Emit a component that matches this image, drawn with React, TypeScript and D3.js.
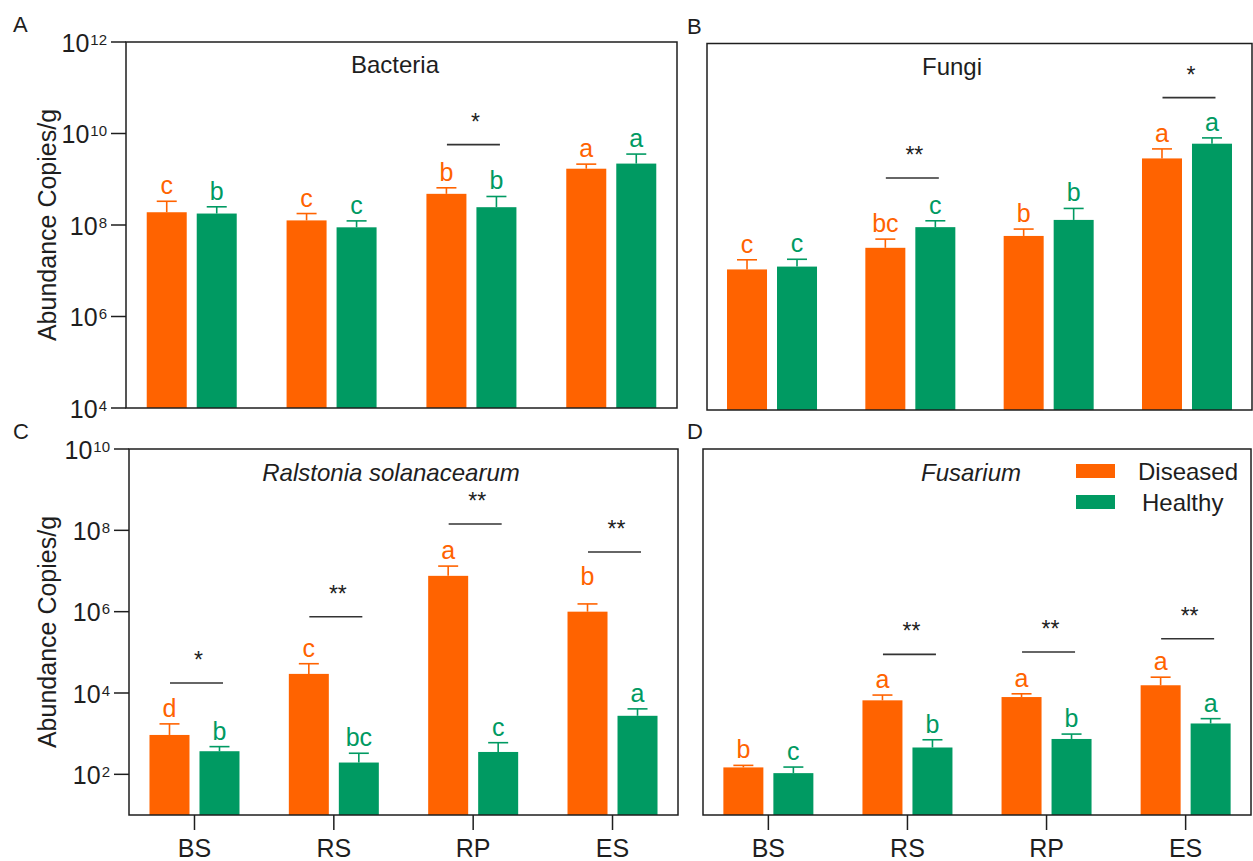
import React from "react";
import * as d3 from "d3";

// Sampling compartments and treatment groups
const sites = ["BS", "RS", "RP", "ES"];
const groupNames = ["Diseased", "Healthy"];
const groupColors = ["#FF6300", "#009A62"];

// Bacteria (copies/g): mean and standard error
const bacteriaDiseased = [1.9e8, 1.26e8, 4.8e8, 1.7e9];
const bacteriaDiseasedSE = [1.4e8, 5.2e7, 1.7e8, 4.4e8];
const bacteriaHealthy = [1.78e8, 8.9e7, 2.45e8, 2.2e9];
const bacteriaHealthySE = [7.2e7, 3.4e7, 1.75e8, 1.35e9];
const bacteriaDiseasedLetters = ["c", "c", "b", "a"];
const bacteriaHealthyLetters = ["b", "c", "b", "a"];
const bacteriaSig = [{ site: "RP", mark: "*", level: 5.7e9 }];

// Fungi (copies/g)
const fungiDiseased = [1.17e7, 3.47e7, 6.3e7, 3.1e9];
const fungiDiseasedSE = [7.3e6, 1.9e7, 2.6e7, 1.9e9];
const fungiHealthy = [1.35e7, 9.8e7, 1.41e8, 6.5e9];
const fungiHealthySE = [6.0e6, 3.7e7, 1.1e8, 2.2e9];
const fungiDiseasedLetters = ["c", "bc", "b", "a"];
const fungiHealthyLetters = ["c", "c", "b", "a"];
const fungiSig = [
  { site: "RS", mark: "**", level: 1.16e9 },
  { site: "ES", mark: "*", level: 6.6e10 },
];

// Ralstonia solanacearum (copies/g)
const ralstoniaDiseased = [930, 29500, 7.6e6, 1.0e6];
const ralstoniaDiseasedSE = [810, 23000, 5.6e6, 5.5e5];
const ralstoniaHealthy = [370, 195, 355, 2750];
const ralstoniaHealthySE = [110, 135, 245, 1320];
const ralstoniaDiseasedLetters = ["d", "c", "a", "b"];
const ralstoniaHealthyLetters = ["b", "bc", "c", "a"];
const ralstoniaDiseasedLetterLift = [0, 0, 0, 12];
const ralstoniaSig = [
  { site: "BS", mark: "*", level: 1.76e4 },
  { site: "RS", mark: "**", level: 7.5e5 },
  { site: "RP", mark: "**", level: 1.43e8 },
  { site: "ES", mark: "**", level: 2.93e7 },
];

// Fusarium (copies/g)
const fusariumDiseased = [148, 6600, 7950, 15500];
const fusariumDiseasedSE = [18, 2300, 1600, 9000];
const fusariumHealthy = [107, 457, 741, 1780];
const fusariumHealthySE = [44, 251, 236, 560];
const fusariumDiseasedLetters = ["b", "a", "a", "a"];
const fusariumHealthyLetters = ["c", "b", "b", "a"];
const fusariumSig = [
  { site: "RS", mark: "**", level: 8.9e4 },
  { site: "RP", mark: "**", level: 1.02e5 },
  { site: "ES", mark: "**", level: 2.16e5 },
];

// Axis tick exponents
const upperTickExponents = [4, 6, 8, 10, 12];
const lowerTickExponents = [2, 4, 6, 8, 10];

const FONT = "'Liberation Sans', Arial, Helvetica, sans-serif";
const INK = "#1e1e1e";

type Sig = { site: string; mark: string; level: number };
type PanelSpec = {
  tag: string;
  title: string;
  italic: boolean;
  titleX: number;
  box: [number, number, number, number]; // x0, y0, x1, y1
  domain: [number, number];
  yTicks: number[] | null;
  xTicks: boolean;
  means: number[][];
  ses: number[][];
  letters: string[][];
  lifts: number[][];
  sig: Sig[];
};

const zeros = [0, 0, 0, 0];

const panels: PanelSpec[] = [
  {
    tag: "A",
    title: "Bacteria",
    italic: false,
    titleX: 395,
    box: [126, 42, 677, 408],
    domain: [1e4, 1e12],
    yTicks: upperTickExponents,
    xTicks: false,
    means: [bacteriaDiseased, bacteriaHealthy],
    ses: [bacteriaDiseasedSE, bacteriaHealthySE],
    letters: [bacteriaDiseasedLetters, bacteriaHealthyLetters],
    lifts: [zeros, zeros],
    sig: bacteriaSig,
  },
  {
    tag: "B",
    title: "Fungi",
    italic: false,
    titleX: 952,
    box: [707, 43.5, 1252, 410],
    domain: [1e4, 1e12],
    yTicks: null,
    xTicks: false,
    means: [fungiDiseased, fungiHealthy],
    ses: [fungiDiseasedSE, fungiHealthySE],
    letters: [fungiDiseasedLetters, fungiHealthyLetters],
    lifts: [zeros, zeros],
    sig: fungiSig,
  },
  {
    tag: "C",
    title: "Ralstonia solanacearum",
    italic: true,
    titleX: 391,
    box: [129, 449, 678, 815],
    domain: [1e1, 1e10],
    yTicks: lowerTickExponents,
    xTicks: true,
    means: [ralstoniaDiseased, ralstoniaHealthy],
    ses: [ralstoniaDiseasedSE, ralstoniaHealthySE],
    letters: [ralstoniaDiseasedLetters, ralstoniaHealthyLetters],
    lifts: [ralstoniaDiseasedLetterLift, zeros],
    sig: ralstoniaSig,
  },
  {
    tag: "D",
    title: "Fusarium",
    italic: true,
    titleX: 971,
    box: [703, 449, 1251, 815],
    domain: [1e1, 1e10],
    yTicks: null,
    xTicks: true,
    means: [fusariumDiseased, fusariumHealthy],
    ses: [fusariumDiseasedSE, fusariumHealthySE],
    letters: [fusariumDiseasedLetters, fusariumHealthyLetters],
    lifts: [zeros, zeros],
    sig: fusariumSig,
  },
];

const BAR_W = 40;
const BAR_GAP = 10;
const CAP_W = 20;

function Panel({ spec }: { spec: PanelSpec }) {
  const [x0, y0, x1, y1] = spec.box;
  const x = d3.scalePoint<string>().domain(sites).range([x0, x1]).padding(0.47);
  const y = d3.scaleLog().domain(spec.domain).range([y1, y0]);
  const offsets = [-(BAR_W + BAR_GAP) / 2, (BAR_W + BAR_GAP) / 2];
  const yMid = (y0 + y1) / 2;

  return (
    <g>
      {/* panel tag */}
      <text x={spec.tag === "A" || spec.tag === "C" ? 13 : 687} y={y0 - 10} fontSize={22} fill={INK}>
        {spec.tag}
      </text>

      {/* bars, error bars, letters */}
      {groupNames.map((g, gi) =>
        sites.map((s, si) => {
          const cx = (x(s) as number) + offsets[gi];
          const v = spec.means[gi][si];
          const top = y(v);
          const errTop = y(v + spec.ses[gi][si]);
          const color = groupColors[gi];
          return (
            <g key={g + s}>
              <rect x={cx - BAR_W / 2} y={top} width={BAR_W} height={y1 - top} fill={color} />
              <line x1={cx} x2={cx} y1={top} y2={errTop} stroke={color} strokeWidth={1.6} />
              <line x1={cx - CAP_W / 2} x2={cx + CAP_W / 2} y1={errTop} y2={errTop} stroke={color} strokeWidth={1.6} />
              <text
                x={cx}
                y={errTop - 7 - spec.lifts[gi][si]}
                textAnchor="middle"
                fontSize={25}
                fill={color}
              >
                {spec.letters[gi][si]}
              </text>
            </g>
          );
        })
      )}

      {/* frame */}
      <rect x={x0} y={y0} width={x1 - x0} height={y1 - y0} fill="none" stroke={INK} strokeWidth={1.5} />

      {/* y ticks */}
      {spec.yTicks &&
        spec.yTicks.map((e) => {
          const ty = y(Math.pow(10, e));
          return (
            <g key={"yt" + e}>
              <line x1={x0 - 15} x2={x0} y1={ty} y2={ty} stroke={INK} strokeWidth={1.5} />
              <text x={x0 - 19} y={ty + 9.5} textAnchor="end" fontSize={25} fill={INK}>
                10
                <tspan dx={1} dy={-7} fontSize={15}>
                  {e}
                </tspan>
              </text>
            </g>
          );
        })}

      {/* x ticks */}
      {spec.xTicks &&
        sites.map((s) => (
          <g key={"xt" + s}>
            <line x1={x(s)} x2={x(s)} y1={y1} y2={y1 + 15} stroke={INK} strokeWidth={1.5} />
            <text x={x(s)} y={y1 + 42} textAnchor="middle" fontSize={25} fill={INK}>
              {s}
            </text>
          </g>
        ))}

      {/* y-axis title */}
      {spec.yTicks && (
        <text
          transform={`translate(56,${yMid}) rotate(-90)`}
          textAnchor="middle"
          fontSize={25}
          fill={INK}
        >
          Abundance Copies/g
        </text>
      )}

      {/* panel title */}
      <text
        x={spec.titleX}
        y={y0 + (spec.tag === "A" || spec.tag === "B" ? 31 : 32)}
        textAnchor="middle"
        fontSize={24}
        fontStyle={spec.italic ? "italic" : "normal"}
        fill={INK}
      >
        {spec.title}
      </text>

      {/* significance brackets */}
      {spec.sig.map((d) => {
        const cx = (x(d.site) as number) + 2;
        const ly = y(d.level);
        return (
          <g key={"sig" + d.site}>
            <line x1={cx - 26.5} x2={cx + 26.5} y1={ly} y2={ly} stroke="#333" strokeWidth={1.6} />
            <text x={cx + 2} y={ly - 15} textAnchor="middle" fontSize={23} fill={INK}>
              {d.mark}
            </text>
          </g>
        );
      })}
    </g>
  );
}

export default function App() {
  return (
    <svg
      width={1253}
      height={861}
      viewBox="0 0 1253 861"
      style={{ position: "absolute", left: 0, top: 0, background: "#fff", fontFamily: FONT }}
    >
      <rect width={1253} height={861} fill="#fff" />
      {panels.map((p) => (
        <Panel key={p.tag} spec={p} />
      ))}

      {/* legend */}
      {groupNames.map((g, i) => (
        <g key={"lg" + g}>
          <rect x={1076} y={464 + i * 31} width={39} height={14} fill={groupColors[i]} />
          <text x={i === 0 ? 1138 : 1142} y={480 + i * 31} fontSize={24} fill={INK}>
            {g}
          </text>
        </g>
      ))}
    </svg>
  );
}
